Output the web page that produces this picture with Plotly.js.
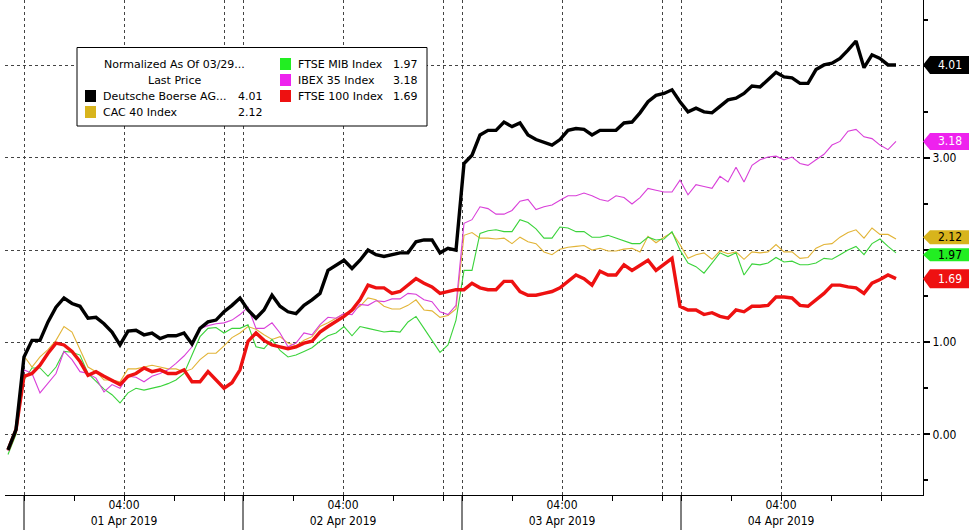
<!DOCTYPE html>
<html><head><meta charset="utf-8">
<script src="https://cdn.plot.ly/plotly-3.0.1.min.js"></script>
<style>body{margin:0;background:#fff}#chart{width:976px;height:530px}</style>
</head><body><div id="chart"></div>
<script>
// ---------------- DATA ----------------
const seriesNames = ['Deutsche Boerse AG...', 'CAC 40 Index', 'FTSE MIB Index', 'IBEX 35 Index', 'FTSE 100 Index'];
const legendTitle = ['Normalized As Of 03/29...', 'Last Price'];
const dayLabels = ['01 Apr 2019', '02 Apr 2019', '03 Apr 2019', '04 Apr 2019'];
const hourTickLabel = '04:00';
const yTickVals = [0, 1, 2, 3, 4];
const yTickText = ['0.00', '1.00', '', '3.00', ''];

// sampling of the intraday series (trading hours, relative to 01 Apr 00:00 grid line)
const sampleStartHours = -0.64;
const sampleStepHours = 0.32;
const sessionHours = 8.76;

const deutscheBoerse = [
 -0.17, 0.05, 0.84, 1.02, 1.02, 1.22, 1.38, 1.48, 1.42, 1.39,
 1.26, 1.27, 1.20, 1.11, 0.97, 1.12, 1.13, 1.08, 1.10, 1.04,
 1.07, 1.07, 1.10, 0.98, 1.15, 1.22, 1.24, 1.33, 1.40, 1.48,
 1.35, 1.26, 1.35, 1.51, 1.39, 1.33, 1.31, 1.40, 1.46, 1.53,
 1.78, 1.83, 1.89, 1.80, 1.89, 2.00, 1.95, 1.93, 1.95, 1.97,
 1.97, 2.09, 2.11, 2.11, 1.97, 2.02, 2.00, 2.94, 3.03, 3.25,
 3.30, 3.30, 3.39, 3.34, 3.38, 3.25, 3.20, 3.17, 3.14, 3.20,
 3.30, 3.32, 3.31, 3.25, 3.30, 3.30, 3.30, 3.38, 3.39, 3.49,
 3.61, 3.68, 3.70, 3.74, 3.61, 3.50, 3.54, 3.50, 3.49, 3.56,
 3.63, 3.65, 3.70, 3.78, 3.77, 3.85, 3.93, 3.88, 3.87, 3.81,
 3.81, 3.96, 4.01, 4.03, 4.08, 4.17, 4.27, 3.98, 4.12, 4.08,
 4.01, 4.01];

const cac40 = [
 -0.18, 0.03, 0.85, 0.73, 0.84, 0.92, 1.02, 1.17, 1.11, 0.92,
 0.73, 0.68, 0.59, 0.59, 0.57, 0.71, 0.71, 0.73, 0.75, 0.73,
 0.71, 0.71, 0.68, 0.71, 0.81, 0.88, 0.88, 0.96, 1.05, 1.10,
 1.17, 1.14, 1.08, 1.03, 1.06, 0.99, 0.96, 1.02, 1.06, 1.17,
 1.21, 1.26, 1.31, 1.34, 1.39, 1.48, 1.46, 1.39, 1.36, 1.36,
 1.40, 1.46, 1.35, 1.34, 1.27, 1.29, 1.36, 2.16, 2.19, 2.13,
 2.13, 2.12, 2.13, 2.07, 2.14, 2.09, 2.07, 1.98, 1.95, 2.01,
 2.03, 2.04, 2.05, 2.00, 2.02, 1.99, 1.99, 2.01, 2.02, 1.98,
 2.15, 2.08, 2.14, 2.19, 2.06, 1.91, 1.95, 1.97, 1.90, 1.99,
 1.96, 1.98, 1.90, 1.98, 1.97, 1.98, 2.06, 1.98, 1.98, 1.91,
 1.92, 2.02, 2.06, 2.07, 2.14, 2.19, 2.22, 2.13, 2.24, 2.17,
 2.17, 2.12];

const ftseMib = [
 -0.22, 0.00, 0.59, 0.72, 0.72, 0.63, 0.73, 0.90, 0.89, 0.86,
 0.66, 0.57, 0.49, 0.43, 0.34, 0.45, 0.50, 0.48, 0.50, 0.52,
 0.55, 0.59, 0.66, 0.86, 1.06, 1.15, 1.16, 1.10, 1.15, 1.15,
 1.19, 0.95, 0.93, 1.03, 0.91, 0.84, 0.86, 0.90, 0.94, 1.01,
 1.07, 1.10, 1.17, 1.07, 1.17, 1.15, 1.13, 1.11, 1.12, 1.11,
 1.22, 1.28, 1.15, 1.02, 0.89, 0.97, 1.24, 1.78, 1.78, 2.18,
 2.21, 2.22, 2.20, 2.20, 2.33, 2.30, 2.23, 2.13, 2.13, 2.25,
 2.24, 2.20, 2.20, 2.14, 2.14, 2.16, 2.13, 2.10, 2.07, 2.07,
 2.14, 2.11, 2.12, 2.20, 2.00, 1.86, 1.82, 1.75, 1.86, 1.97,
 1.93, 1.97, 1.73, 1.85, 1.84, 1.86, 1.92, 1.87, 1.88, 1.84,
 1.84, 1.86, 1.91, 1.90, 1.95, 2.00, 2.04, 1.95, 2.07, 2.12,
 2.04, 1.97];

const ibex35 = [
 -0.18, 0.03, 0.70, 0.66, 0.45, 0.55, 0.66, 0.90, 0.81, 0.68,
 0.66, 0.61, 0.46, 0.54, 0.50, 0.63, 0.62, 0.57, 0.63, 0.66,
 0.70, 0.77, 0.85, 0.95, 1.15, 1.18, 1.20, 1.21, 1.24, 1.30,
 1.38, 1.15, 1.15, 1.21, 1.10, 0.95, 0.99, 1.10, 1.08, 1.19,
 1.27, 1.26, 1.31, 1.30, 1.41, 1.40, 1.45, 1.44, 1.47, 1.47,
 1.53, 1.52, 1.46, 1.44, 1.33, 1.30, 1.40, 2.29, 2.33, 2.47,
 2.45, 2.39, 2.39, 2.43, 2.53, 2.55, 2.44, 2.47, 2.49, 2.54,
 2.59, 2.59, 2.62, 2.59, 2.55, 2.53, 2.59, 2.57, 2.50, 2.57,
 2.67, 2.65, 2.63, 2.63, 2.76, 2.60, 2.71, 2.69, 2.67, 2.80,
 2.74, 2.90, 2.74, 2.92, 2.98, 3.01, 3.02, 2.98, 3.01, 2.94,
 2.92, 2.98, 3.04, 3.14, 3.18, 3.29, 3.31, 3.23, 3.21, 3.14,
 3.09, 3.18];

const ftse100 = [
 -0.17, 0.05, 0.63, 0.66, 0.75, 0.88, 0.99, 0.97, 0.90, 0.79,
 0.64, 0.68, 0.63, 0.59, 0.54, 0.63, 0.66, 0.72, 0.68, 0.70,
 0.66, 0.66, 0.70, 0.57, 0.57, 0.68, 0.59, 0.50, 0.56, 0.70,
 1.01, 1.10, 1.02, 0.97, 0.95, 0.93, 0.95, 0.99, 1.01, 1.11,
 1.17, 1.22, 1.28, 1.35, 1.46, 1.62, 1.59, 1.59, 1.53, 1.55,
 1.62, 1.69, 1.64, 1.60, 1.53, 1.55, 1.57, 1.57, 1.64, 1.59,
 1.57, 1.57, 1.66, 1.66, 1.55, 1.51, 1.51, 1.53, 1.55, 1.59,
 1.66, 1.73, 1.69, 1.62, 1.77, 1.73, 1.73, 1.84, 1.78, 1.84,
 1.89, 1.78, 1.84, 1.91, 1.39, 1.35, 1.35, 1.30, 1.32, 1.28,
 1.26, 1.35, 1.33, 1.39, 1.39, 1.40, 1.49, 1.49, 1.48, 1.40,
 1.39, 1.46, 1.53, 1.62, 1.62, 1.60, 1.59, 1.53, 1.64, 1.68,
 1.73, 1.69];

// ---------------- STYLE / LAYOUT ----------------
const X_RANGE = [-0.76, 35.96];
const Y_RANGE = [-0.659, 4.715];
const W = 976, H = 530, ML = 5, MR = 53, MT = 0, MB = 35;
const PW = W - ML - MR, PH = H - MT - MB;
const px2x = p => (p - ML) / PW;
const py2y = p => (MT + PH - p) / PH;
const v2y = v => (v - Y_RANGE[0]) / (Y_RANGE[1] - Y_RANGE[0]);

const series = [
  {name: seriesNames[1], y: cac40, line: '#e2b437', width: 1.1, box: '#d8b41c', txt: '#000'},
  {name: seriesNames[2], y: ftseMib, line: '#3bd33b', width: 1.1, box: '#22ee22', txt: '#000'},
  {name: seriesNames[3], y: ibex35, line: '#d93fd9', width: 1.1, box: '#ee22ee', txt: '#fff'},
  {name: seriesNames[4], y: ftse100, line: '#ee1111', width: 3.4, box: '#ee1111', txt: '#fff'},
  {name: seriesNames[0], y: deutscheBoerse, line: '#000000', width: 3.4, box: '#000000', txt: '#fff'}
];
const byName = {};
series.forEach(s => { byName[s.name] = s; s.last = s.y[s.y.length - 1]; });

const hours = deutscheBoerse.map((_, i) => +(sampleStartHours + i * sampleStepHours).toFixed(3));

const traces = series.map(s => ({
  type: 'scatter', mode: 'lines', x: hours, y: s.y, name: s.name,
  line: {color: s.line, width: s.width}, hoverinfo: 'skip', showlegend: false
}));

const xTickVals = [], xTickText = [], xMinor = [];
dayLabels.forEach((d, k) => {
  const s = k * sessionHours;
  xTickVals.push(s, s + 4, s + 8);
  xTickText.push('', hourTickLabel + '<br>' + d, '');
  xMinor.push(s + 2, s + 6);
});

const shapes = [];
const annotations = [];

// day separators below the axis
dayLabels.forEach((d, k) => {
  shapes.push({type: 'line', xref: 'x', yref: 'paper', x0: k * sessionHours, x1: k * sessionHours,
    y0: 0, y1: -0.075, line: {color: '#000', width: 1}});
});

// right-hand last value tags
const tagFont = 'Tahoma, "DejaVu Sans Condensed", "Liberation Sans", sans-serif';
const tagH = {[seriesNames[0]]: 18, [seriesNames[3]]: 17, [seriesNames[1]]: 14, [seriesNames[2]]: 13, [seriesNames[4]]: 19};
const tagShift = {[seriesNames[1]]: 0.02, [seriesNames[2]]: -0.02};
series.forEach(s => {
  const c = v2y(s.last + (tagShift[s.name] || 0));
  const hh = tagH[s.name] / PH / 2;
  const xt = px2x(923), xb = px2x(930), xr = px2x(969);
  shapes.push({type: 'path', xref: 'paper', yref: 'paper', layer: 'above',
    path: `M ${xt} ${c} L ${xb} ${c + hh} L ${xr} ${c + hh} L ${xr} ${c - hh} L ${xb} ${c - hh} Z`,
    fillcolor: s.box, line: {width: 0}});
  annotations.push({xref: 'paper', yref: 'paper', x: px2x(950), y: c, xanchor: 'center', yanchor: 'middle',
    text: s.last.toFixed(2), showarrow: false, font: {family: tagFont, size: 12, color: s.txt}});
});

// legend box
shapes.push({type: 'rect', xref: 'paper', yref: 'paper', layer: 'above',
  x0: px2x(77), x1: px2x(427), y0: py2y(126), y1: py2y(47.5),
  fillcolor: '#fff', line: {color: '#000', width: 1}});
const lgFont = {family: '"DejaVu Sans", Verdana, sans-serif', size: 11, color: '#000'};
annotations.push({xref: 'paper', yref: 'paper', x: px2x(174), y: py2y(64), text: legendTitle[0], showarrow: false, xanchor: 'center', yanchor: 'middle', font: lgFont});
annotations.push({xref: 'paper', yref: 'paper', x: px2x(174), y: py2y(80), text: legendTitle[1], showarrow: false, xanchor: 'center', yanchor: 'middle', font: lgFont});
const legendSlots = [
  [seriesNames[0], 85, 101, 265, 96],
  [seriesNames[1], 85, 101, 265, 112],
  [seriesNames[2], 280, 296, 420, 64],
  [seriesNames[3], 280, 296, 420, 80],
  [seriesNames[4], 280, 296, 420, 96]
];
legendSlots.forEach(([nm, sq, tx, vx, yy]) => {
  const s = byName[nm];
  shapes.push({type: 'rect', xref: 'paper', yref: 'paper', layer: 'above',
    x0: px2x(sq), x1: px2x(sq + 11), y0: py2y(yy + 6), y1: py2y(yy - 6),
    fillcolor: s.box, line: {width: 0}});
  annotations.push({xref: 'paper', yref: 'paper', x: px2x(tx), y: py2y(yy), text: nm, showarrow: false, xanchor: 'left', yanchor: 'middle', font: lgFont});
  annotations.push({xref: 'paper', yref: 'paper', x: px2x(vx), y: py2y(yy), text: s.last.toFixed(2), showarrow: false, xanchor: 'right', yanchor: 'middle', font: lgFont});
});

const layout = {
  width: W, height: H,
  margin: {l: ML, r: MR, t: MT, b: MB, pad: 0},
  paper_bgcolor: '#fff', plot_bgcolor: '#fff',
  font: {family: tagFont, size: 12, color: '#000'},
  showlegend: false, hovermode: false,
  xaxis: {
    range: X_RANGE, tickmode: 'array', tickvals: xTickVals, ticktext: xTickText,
    showgrid: true, gridcolor: '#444', griddash: 'dot', gridwidth: 1, zeroline: false,
    showline: true, linecolor: '#000', linewidth: 1,
    ticks: 'outside', ticklen: 5, tickcolor: '#000', tickwidth: 1,
    ticklabelstandoff: -6,
    tickfont: {family: '"Liberation Sans Narrow", "Arial Narrow", "DejaVu Sans Condensed", sans-serif', size: 12, color: '#000'},
    minor: {tickmode: 'array', tickvals: xMinor, ticks: 'outside', ticklen: 5, tickcolor: '#000', showgrid: false},
    fixedrange: true
  },
  yaxis: {
    side: 'right', range: Y_RANGE, tickmode: 'array', tickvals: yTickVals, ticktext: yTickText,
    showgrid: true, gridcolor: '#444', griddash: 'dot', gridwidth: 1, zeroline: false,
    showline: true, linecolor: '#000', linewidth: 1,
    ticks: 'outside', ticklen: 6, tickwidth: 2, tickcolor: '#000',
    tickfont: {family: tagFont, size: 12, color: '#000'},
    minor: {tickmode: 'array', tickvals: [-0.5, 0.5, 1.5, 2.5, 3.5, 4.5], ticks: 'outside', ticklen: 4, tickcolor: '#000', showgrid: false},
    fixedrange: true
  },
  shapes, annotations
};

Plotly.newPlot('chart', traces, layout, {displayModeBar: false, staticPlot: true});
</script>
</body></html>
